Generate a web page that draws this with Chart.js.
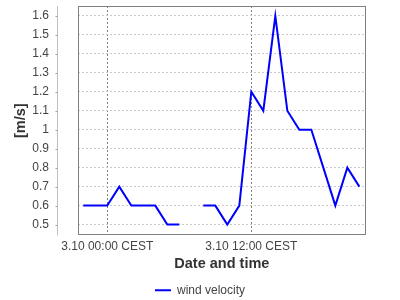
<!DOCTYPE html>
<html>
<head>
<meta charset="utf-8">
<script src="https://cdn.jsdelivr.net/npm/chart.js@4/dist/chart.umd.min.js"></script>
<style>
html,body{margin:0;padding:0;background:#fff;}
#wrap{width:400px;height:300px;position:relative;}
</style>
</head>
<body>
<div id="wrap"><canvas id="c" width="400" height="300"></canvas></div>
<script>
// hours relative to 3.10 00:00 CEST
const hours = [-2,-1,0,1,2,3,4,5,6,7,8,9,10,11,12,13,14,15,16,17,18,19,20,21];
const windVelocity = [0.6,0.6,0.6,0.7,0.6,0.6,0.6,0.5,0.5,null,0.6,0.6,0.5,0.6,1.2,1.1,1.6,1.1,1.0,1.0,0.8,0.6,0.8,0.7];
const xTickHours = [0,12];
const xTickLabels = ['3.10 00:00 CEST','3.10 12:00 CEST'];
const yTickValues = [0.5,0.6,0.7,0.8,0.9,1.0,1.1,1.2,1.3,1.4,1.5,1.6];
const seriesName = 'wind velocity';

const FONT = "'Liberation Sans', Arial, sans-serif";

const framePlugin = {
  id: 'frame',
  afterDraw(chart) {
    const ctx = chart.ctx;
    const a = chart.chartArea;
    const y = chart.scales.y;
    ctx.save();
    ctx.strokeStyle = '#808080';
    ctx.lineWidth = 1;
    ctx.strokeRect(Math.round(a.left)+0.5, Math.round(a.top)+0.5, Math.round(a.right-a.left)-1, Math.round(a.bottom-a.top)-1);
    const ax = Math.round(a.left - 21) + 0.5;
    ctx.strokeStyle = '#c0c0c0';
    ctx.beginPath();
    ctx.moveTo(ax, a.top);
    ctx.lineTo(ax, a.bottom);
    ctx.stroke();
    ctx.strokeStyle = '#a0a0a0';
    y.ticks.forEach(t => {
      const py = Math.round(y.getPixelForValue(t.value)) + 0.5;
      ctx.beginPath();
      ctx.moveTo(ax - 2, py);
      ctx.lineTo(ax, py);
      ctx.stroke();
    });
    ctx.restore();
  }
};

new Chart(document.getElementById('c'), {
  type: 'line',
  data: {
    datasets: [{
      label: seriesName,
      data: hours.map((h, i) => ({x: h, y: windVelocity[i]})),
      borderColor: '#0000ff',
      backgroundColor: '#0000ff',
      borderWidth: 2,
      pointRadius: 0,
      tension: 0,
      spanGaps: false,
      yAxisID: 'y'
    }]
  },
  options: {
    responsive: false,
    animation: false,
    layout: {padding: {left: 10, right: 10, top: 6, bottom: -6.2}},
    plugins: {
      tooltip: {enabled: false},
      legend: {
        position: 'bottom',
        labels: {
          usePointStyle: true,
          pointStyle: 'line',
          pointStyleWidth: 16,
          color: '#444',
          font: {family: FONT, size: 12},
          padding: 8
        }
      }
    },
    scales: {
      x: {
        type: 'linear',
        min: -2.44,
        max: 21.53,
        afterBuildTicks(scale) { scale.ticks = xTickHours.map(v => ({value: v})); },
        afterFit(scale) { scale.height = 40.8; scale.paddingLeft = 0; scale.paddingRight = 0; },
        ticks: {
          autoSkip: false,
          maxRotation: 0,
          padding: 4,
          color: '#444',
          font: {family: FONT, size: 12},
          callback(v) { const i = xTickHours.indexOf(v); return i >= 0 ? xTickLabels[i] : ''; }
        },
        grid: {color: '#808080', lineWidth: 1, drawTicks: false},
        border: {display: false, dash: [2,2]},
        title: {display: true, text: 'Date and time', color: '#333', font: {family: FONT, size: 14.5, weight: 'bold'}, padding: {top: 0, bottom: 3.1}}
      },
      y: {
        type: 'linear',
        position: 'left',
        min: 0.443,
        max: 1.652,
        afterBuildTicks(scale) { scale.ticks = yTickValues.map(v => ({value: v})); },
        afterFit(scale) { scale.width = 68; scale.paddingTop = 0; scale.paddingBottom = 0; },
        ticks: {
          autoSkip: false,
          padding: 29,
          color: '#444',
          font: {family: FONT, size: 12},
          callback(v) { return String(Math.round(v * 10) / 10); }
        },
        grid: {color: '#c8c8c8', lineWidth: 1, drawTicks: false},
        border: {display: false, dash: [2,2]},
        title: {display: true, text: '[m/s]', color: '#333', font: {family: FONT, size: 14.5, weight: 'bold'}, padding: {top: 2.3, bottom: 0}}
      },
      yRightSpace: {
        type: 'linear',
        position: 'right',
        display: true,
        afterFit(scale) { scale.width = 24.3; scale.paddingTop = 0; scale.paddingBottom = 0; },
        ticks: {display: false},
        grid: {display: false, drawTicks: false},
        border: {display: false}
      }
    }
  },
  plugins: [framePlugin]
});
</script>
</body>
</html>
